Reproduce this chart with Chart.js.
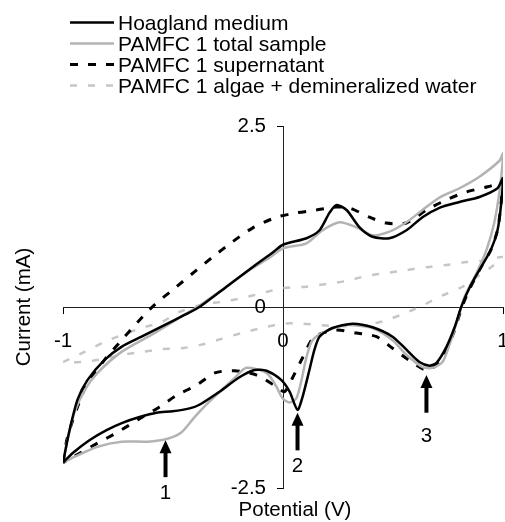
<!DOCTYPE html>
<html>
<head>
<meta charset="utf-8">
<script src="https://cdn.jsdelivr.net/npm/chart.js@4"></script>
<style>
body { margin: 0; background: #fff; }
#wrap { position: relative; width: 505px; height: 522px; }
#legend { position: absolute; left: 70px; top: 12px; font: 21px "Liberation Sans", Arial, sans-serif; color: #000; }
.row { display: flex; align-items: center; height: 21px; white-space: nowrap; }
.row svg { margin-right: 4px; }
</style>
</head>
<body>
<div id="wrap">
<canvas id="cvChart" width="505" height="522"></canvas>
<div id="legend"></div>
</div>
<script>

// DATA

const seriesNames = [
    'Hoagland medium',
    'PAMFC 1 total sample',
    'PAMFC 1 supernatant',
    'PAMFC 1 algae + demineralized water'
];

const hoaglandV = [-1, -0.97, -0.934, -0.889, -0.811, -0.734, -0.643, -0.539, -0.448, -0.38, -0.257, -0.139, -0.048, 0, 0.107, 0.166, 0.211, 0.243, 0.289, 0.348, 0.407, 0.484, 0.561, 0.634, 0.711, 0.802, 0.893, 0.975, 1,
    0.99, 0.975, 0.945, 0.9, 0.85, 0.81, 0.78, 0.743, 0.698, 0.666, 0.62, 0.561, 0.498, 0.407, 0.316, 0.225, 0.166, 0.143, 0.12, 0.089, 0.066, 0.03, -0.007, -0.075, -0.13, -0.198, -0.289, -0.38, -0.425, -0.502, -0.575, -0.652, -0.73, -0.802, -0.88, -0.957, -1];
const hoaglandI = [-2.15, -1.70, -1.28, -1.01, -0.73, -0.55, -0.41, -0.25, -0.11, 0, 0.28, 0.55, 0.75, 0.86, 0.95, 1.06, 1.30, 1.41, 1.34, 1.10, 0.97, 0.95, 1.06, 1.24, 1.37, 1.45, 1.52, 1.64, 1.78,
    1.38, 1.06, 0.79, 0.55, 0.28, 0, -0.28, -0.55, -0.77, -0.81, -0.76, -0.59, -0.41, -0.28, -0.23, -0.29, -0.41, -0.59, -0.87, -1.24, -1.42, -1.17, -1.01, -0.88, -0.87, -0.97, -1.17, -1.35, -1.40, -1.44, -1.46, -1.52, -1.60, -1.70, -1.84, -2.02, -2.15];

const totalV = [-1, -0.98, -0.948, -0.902, -0.843, -0.734, -0.584, -0.434, -0.389, -0.28, -0.152, -0.061, 0, 0.107, 0.18, 0.257, 0.334, 0.407, 0.484, 0.561, 0.634, 0.711, 0.802, 0.893, 0.984, 1,
    0.985, 0.96, 0.925, 0.88, 0.825, 0.789, 0.757, 0.725, 0.68, 0.634, 0.561, 0.498, 0.407, 0.289, 0.198, 0.134, 0.107, 0.084, 0.061, 0.03, -0.002, -0.03, -0.075, -0.166, -0.22, -0.28, -0.343, -0.402, -0.461, -0.525, -0.616, -0.734, -0.843, -0.948, -1];
const totalI = [-2.15, -1.84, -1.46, -1.15, -0.91, -0.62, -0.36, -0.08, 0, 0.23, 0.51, 0.68, 0.81, 0.88, 1.06, 1.17, 1.10, 0.99, 1.04, 1.17, 1.34, 1.51, 1.64, 1.80, 2.02, 2.12,
    1.62, 1.16, 0.79, 0.47, 0.14, -0.22, -0.52, -0.76, -0.84, -0.83, -0.66, -0.46, -0.29, -0.25, -0.33, -0.46, -0.69, -1.01, -1.26, -1.32, -1.26, -1.10, -0.91, -0.84, -0.98, -1.15, -1.33, -1.52, -1.73, -1.82, -1.86, -1.86, -1.93, -2.07, -2.15];

const superV = [-1, -0.98, -0.934, -0.889, -0.811, -0.734, -0.661, -0.584, -0.484, -0.393, -0.32, -0.23, -0.139, -0.03, 0.061, 0.152, 0.243, 0.302, 0.393, 0.47, 0.561, 0.652, 0.743, 0.834, 0.93, 0.98, 1,
    0.99, 0.975, 0.945, 0.9, 0.85, 0.816, 0.771, 0.711, 0.652, 0.589, 0.498, 0.425, 0.334, 0.243, 0.143, 0.089, 0.043, 0.007, -0.03, -0.12, -0.22, -0.31, -0.393, -0.484, -0.561, -0.661, -0.752, -0.843, -0.948, -1];
const superI = [-2.15, -1.80, -1.38, -1.05, -0.73, -0.46, -0.21, 0.03, 0.28, 0.51, 0.69, 0.90, 1.09, 1.24, 1.30, 1.34, 1.38, 1.37, 1.24, 1.16, 1.16, 1.34, 1.48, 1.59, 1.66, 1.71, 1.75,
    1.40, 1.06, 0.79, 0.55, 0.26, 0.02, -0.39, -0.77, -0.87, -0.77, -0.57, -0.41, -0.36, -0.32, -0.41, -0.70, -0.98, -1.17, -1.10, -0.94, -0.88, -0.91, -1.08, -1.22, -1.38, -1.56, -1.73, -1.88, -2.06, -2.15];

const algaeV = [-1, -0.902, -0.811, -0.734, -0.643, -0.552, -0.48, -0.37, -0.28, -0.189, -0.098, 0, 0.107, 0.198, 0.289, 0.38, 0.47, 0.561, 0.652, 0.743, 0.834, 0.907, 1,
    0.95, 0.907, 0.816, 0.725, 0.634, 0.543, 0.452, 0.348, 0.211, 0.089, 0, -0.098, -0.189, -0.28, -0.37, -0.461, -0.548, -0.639, -0.73, -0.82, -0.911, -1];
const algaeI = [-0.76, -0.62, -0.48, -0.39, -0.29, -0.21, -0.08, 0.03, 0.07, 0.12, 0.19, 0.26, 0.28, 0.32, 0.36, 0.43, 0.47, 0.51, 0.55, 0.58, 0.62, 0.64, 0.69,
    0.56, 0.47, 0.28, 0.16, 0.02, -0.10, -0.20, -0.26, -0.26, -0.23, -0.23, -0.29, -0.36, -0.44, -0.52, -0.57, -0.58, -0.62, -0.66, -0.72, -0.76, -0.76];

const xTicks = [-1, 0, 1];
const yTicks = [-2.5, 0, 2.5];
const yTickLabels = ['-2.5', '0', '2.5'];

// peak markers (arrows)
const peakLabels = ['1', '2', '3'];
const peakV = [-0.534, 0.066, 0.652];
const peakTipI = [-1.84, -1.46, -0.94];
const peakTailI = [-2.35, -1.98, -1.46];
const peakTextI = [-2.58, -2.2, -1.78];

const FONT = '"Liberation Sans", Arial, sans-serif';

function toPoints(xs, ys) {
    return xs.map((v, i) => ({ x: v, y: ys[i] }));
}


// ARROWS, Y LABELS, AXIS TITLES

const annotate = {
    id: 'annotate',
    afterDatasetsDraw(chart) {
        const { ctx, chartArea } = chart;
        const x = chart.scales.x;
        const y = chart.scales.y;
        ctx.save();
        ctx.fillStyle = '#000';
        ctx.strokeStyle = '#000';
        ctx.font = '20.5px ' + FONT;
        ctx.textAlign = 'center';
        ctx.textBaseline = 'middle';

        peakV.forEach((v, i) => {
            const px = x.getPixelForValue(v);
            const tip = y.getPixelForValue(peakTipI[i]);
            const tail = y.getPixelForValue(peakTailI[i]);
            ctx.lineWidth = 4;
            ctx.beginPath();
            ctx.moveTo(px, tail);
            ctx.lineTo(px, tip + 10);
            ctx.stroke();
            ctx.beginPath();
            ctx.moveTo(px, tip);
            ctx.lineTo(px - 6, tip + 13);
            ctx.lineTo(px + 6, tip + 13);
            ctx.closePath();
            ctx.fill();
            ctx.fillText(peakLabels[i], px, y.getPixelForValue(peakTextI[i]));
        });

        ctx.fillText('Potential (V)', (chartArea.left + chartArea.right) / 2 + 12, chartArea.bottom + 22);

        // y tick labels sit left of the crossing axis
        const axisX = x.getPixelForValue(0);
        ctx.textAlign = 'right';
        yTicks.forEach((v, i) => {
            ctx.fillText(yTickLabels[i], axisX - 17, y.getPixelForValue(v));
        });

        ctx.textAlign = 'center';
        ctx.translate(24, y.getPixelForValue(0));
        ctx.rotate(-Math.PI / 2);
        ctx.fillText('Current (mA)', 0, 0);
        ctx.restore();
    }
};


// CHART

const styles = [
    { borderColor: '#000000', borderWidth: 2.5, borderDash: [] },
    { borderColor: '#b3b3b3', borderWidth: 2.5, borderDash: [] },
    { borderColor: '#000000', borderWidth: 3, borderDash: [8, 10] },
    { borderColor: '#c6c6c6', borderWidth: 2.5, borderDash: [7, 11] }
];

const allPoints = [
    toPoints(hoaglandV, hoaglandI),
    toPoints(totalV, totalI),
    toPoints(superV, superI),
    toPoints(algaeV, algaeI)
];

const chart = new Chart(document.getElementById('cvChart'), {

    type: 'scatter',

    data: {
        datasets: seriesNames.map((name, i) => ({
            label: name,
            data: allPoints[i],
            showLine: true,
            pointRadius: 0,
            tension: 0.25,
            fill: false,
            borderColor: styles[i].borderColor,
            borderWidth: styles[i].borderWidth,
            borderDash: styles[i].borderDash
        }))
    },

    options: {

        responsive: false,
        animation: false,

        layout: {
            padding: { left: 63, right: 2, top: 126, bottom: 34 }
        },

        plugins: {
            legend: { display: false },
            tooltip: { enabled: false }
        },

        scales: {

            x: {
                type: 'linear',
                min: -1,
                max: 1,
                position: { y: 0 },
                afterBuildTicks: s => { s.ticks = xTicks.map(v => ({ value: v })); },
                afterFit: s => { s.paddingRight = 0; },
                grid: { drawOnChartArea: false, color: '#000', tickLength: 6 },
                border: { color: '#222', width: 1 },
                ticks: { color: '#000', padding: 16, font: { size: 20.5, family: FONT } }
            },

            y: {
                type: 'linear',
                min: -2.5,
                max: 2.5,
                position: { x: 0 },
                afterBuildTicks: s => { s.ticks = yTicks.map(v => ({ value: v })); },
                grid: { drawOnChartArea: false, color: '#000', tickLength: 6 },
                border: { color: '#222', width: 1 },
                ticks: { display: false }
            }

        }

    },

    plugins: [annotate]

});


// LEGEND

const legend = document.getElementById('legend');

seriesNames.forEach((name, i) => {
    const st = styles[i];
    const row = document.createElement('div');
    row.className = 'row';
    row.innerHTML =
        '<svg width="44" height="21"><line x1="0" y1="10.5" x2="44" y2="10.5" stroke="' + st.borderColor +
        '" stroke-width="' + st.borderWidth + '" stroke-dasharray="' + (st.borderDash.join(' ') || 'none') + '"/></svg>' +
        '<span></span>';
    row.querySelector('span').textContent = name;
    legend.appendChild(row);
});

</script>
</body>
</html>
